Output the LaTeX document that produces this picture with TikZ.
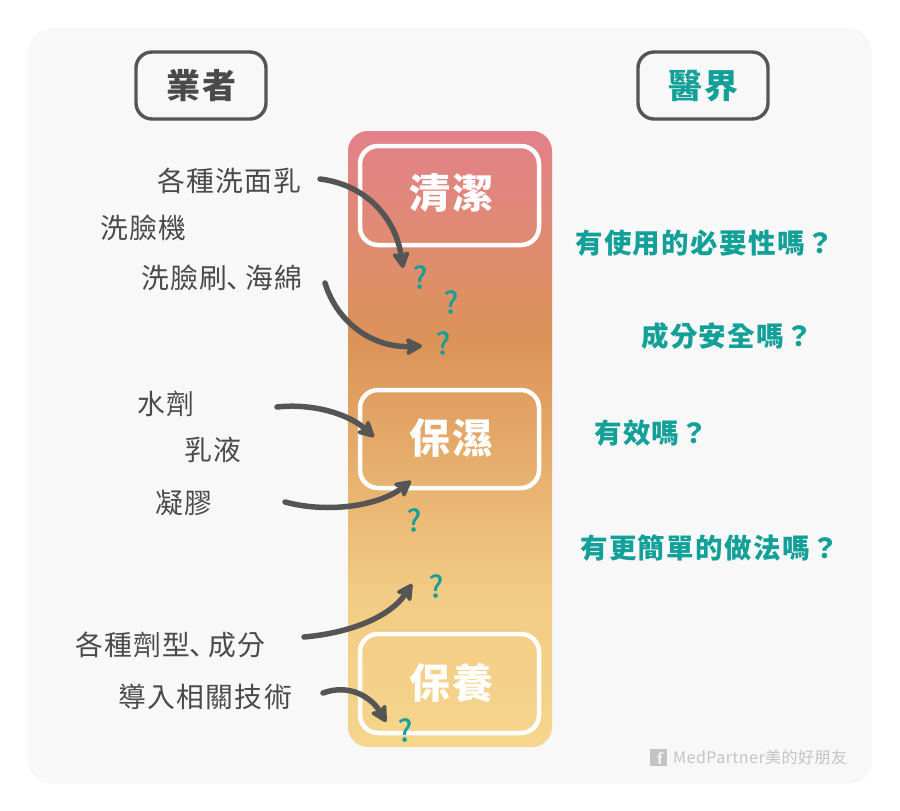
\documentclass[tikz,border=0pt]{standalone}
\usepackage{fontspec}
\usetikzlibrary{arrows.meta}
\newfontfamily\cjk[LetterSpace=5]{Noto Sans CJK TC}
\newfontfamily\cjkjp{Noto Sans CJK JP}
\newfontfamily\qfont[FakeBold=1.2]{Noto Sans CJK JP}
\newfontfamily\wmfont[LetterSpace=3]{Noto Sans CJK TC}
\definecolor{bgpanel}{HTML}{F8F8F8}
\definecolor{inkgray}{HTML}{555555}
\definecolor{txtgray}{HTML}{4A4A4A}
\definecolor{tealc}{HTML}{12A098}
\definecolor{wmgray}{HTML}{C4C4C4}
\definecolor{gA}{HTML}{E3808A}
\definecolor{gB}{HTML}{E08A74}
\definecolor{gC}{HTML}{DC9358}
\definecolor{gD}{HTML}{E6AE6C}
\definecolor{gE}{HTML}{F2CC85}
\definecolor{gF}{HTML}{F6D58D}
\pgfdeclareverticalshading{barshade}{100bp}{
 color(0bp)=(gF); color(25bp)=(gF); color(37bp)=(gE); color(48bp)=(gD);
 color(58bp)=(gC); color(67bp)=(gB); color(75bp)=(gA); color(100bp)=(gA)}
\newcommand{\dun}{\kern-1pt{\cjkjp 、}\kern-9pt}
\tikzset{
 x=1pt,y=-1pt,
 headbox/.style={draw=inkgray,line width=3.4pt,rounded corners=16pt,fill=none},
 stagebox/.style={draw=white,line width=4.5pt,rounded corners=18pt,fill=none},
 headtxt/.style={inner sep=0pt,font=\fontsize{34}{34}\selectfont\cjk\bfseries,text height=30pt,text depth=4pt},
 stagetxt/.style={inner sep=0pt,text=white,font=\fontsize{41}{41}\selectfont\cjk\bfseries,text height=36pt,text depth=5pt},
 lefttxt/.style={anchor=west,inner sep=0pt,text=txtgray,font=\fontsize{27.8}{27.8}\selectfont\cjk,text height=24pt,text depth=3.5pt},
 righttxt/.style={anchor=west,inner sep=0pt,text=tealc,font=\fontsize{27.5}{27.5}\selectfont\cjk\bfseries,text height=24pt,text depth=3.5pt},
 qmark/.style={inner sep=0pt,text=tealc,font=\fontsize{30}{30}\selectfont\qfont},
 flow/.style={draw=inkgray,line width=5.5pt,line cap=round,-{Stealth[length=20pt,width=21pt,inset=5pt,round=false]}},
}
\begin{document}
\begin{tikzpicture}
\useasboundingbox (0,0) rectangle (900,811);
\fill[white] (0,0) rectangle (900,811);
\fill[bgpanel,rounded corners=24pt] (28,28) rectangle (872,784);
% central bar
\shade[shading=barshade,rounded corners=20pt] (348,131) rectangle (552,747);
\draw[stagebox] (360,146) rectangle (539,245);
\draw[stagebox] (360,390) rectangle (539,488);
\draw[stagebox] (360,634) rectangle (539,733);
\node[stagetxt] (clean) at (451.5,193) {清潔};
\node[stagetxt] (moist) at (451.5,438) {保濕};
\node[stagetxt] (care) at (451.5,683) {保養};
% headers
\draw[headbox] (136,52) rectangle (266,119);
\draw[headbox] (638,52) rectangle (768,119);
\node[headtxt,text=txtgray] (vendor) at (201.5,85) {業者};
\node[headtxt,text=tealc] (medical) at (703.5,85) {醫界};
% left labels
\node[lefttxt] (l1) at (157,181) {各種洗面乳};
\node[lefttxt] (l2) at (100,228) {洗臉機};
\node[lefttxt] (l3) at (141,278) {洗臉刷\dun 海綿};
\node[lefttxt] (l4) at (137,404) {水劑};
\node[lefttxt] (l5) at (184,450) {乳液};
\node[lefttxt] (l6) at (155,503) {凝膠};
\node[lefttxt] (l7) at (75,645) {各種劑型\dun 成分};
\node[lefttxt] (l8) at (118,697) {導入相關技術};
% right labels
\node[righttxt] (r1) at (575,243) {有使用的必要性嗎？};
\node[righttxt] (r2) at (641,336) {成分安全嗎？};
\node[righttxt] (r3) at (594,433) {有效嗎？};
\node[righttxt] (r4) at (580,548) {有更簡單的做法嗎？};
% question marks
\node[qmark] (q1) at (420,277) {?};
\node[qmark] (q2) at (451,302) {?};
\node[qmark] (q3) at (443,343) {?};
\node[qmark] (q4) at (414,520) {?};
\node[qmark] (q5) at (436,586) {?};
\node[qmark] (q6) at (405,730) {?};
% connector ends
\coordinate (a1s) at (320,179); \coordinate (a1e) at (403,268);
\coordinate (a2s) at (325,283); \coordinate (a2e) at (422,346);
\coordinate (a3s) at (277,407); \coordinate (a3e) at (374,437);
\coordinate (a4s) at (285,502); \coordinate (a4e) at (411,481);
\coordinate (a5s) at (304,637); \coordinate (a5e) at (412,584);
\coordinate (a6s) at (323,693); \coordinate (a6e) at (386,722);
\draw[flow] (a1s) .. controls (368,185) and (396,220) .. (a1e);
\draw[flow] (a2s) .. controls (338,325) and (375,348) .. (a2e);
\draw[flow] (a3s) .. controls (315,403) and (350,415) .. (a3e);
\draw[flow] (a4s) .. controls (330,514) and (380,505) .. (a4e);
\draw[flow] (a5s) .. controls (350,633) and (390,617) .. (a5e);
\draw[flow] (a6s) .. controls (350,683) and (372,698) .. (a6e);
% watermark
\node[fill=wmgray,minimum size=17pt,inner sep=0pt] (fb) at (658,757) {};
\node[inner sep=0pt,text=bgpanel,font=\fontsize{17}{17}\selectfont\bfseries\sffamily] (fbf) at (660,758) {f};
\node[anchor=west,inner sep=0pt,text=wmgray,font=\fontsize{16}{16}\selectfont\wmfont] (wm) at (673,757) {MedPartner美的好朋友};
\end{tikzpicture}
\end{document}
